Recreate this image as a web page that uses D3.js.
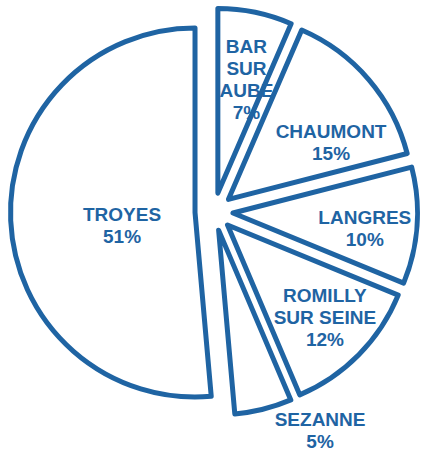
<!DOCTYPE html>
<html>
<head>
<meta charset="utf-8">
<script src="https://cdn.jsdelivr.net/npm/d3@7"></script>
<style>
  html, body { margin: 0; padding: 0; background: #fff; }
  svg { display: block; }
</style>
</head>
<body>
<svg id="chart" width="422" height="452"></svg>
<script>
// ---- data ----
const categories = ["BAR SUR AUBE", "CHAUMONT", "LANGRES", "ROMILLY SUR SEINE", "SEZANNE", "TROYES"];
const values = [6.5, 14.5, 10.2, 12.4, 5.0, 51.4];
const percentLabels = ["7%", "15%", "10%", "12%", "5%", "51%"];
const nameLines = [["BAR", "SUR", "AUBE"], ["CHAUMONT"], ["LANGRES"], ["ROMILLY", "SUR SEINE"], ["SEZANNE"], ["TROYES"]];

// ---- layout (label placement: radius from pie centre, angle nudge in degrees) ----
const labelRadius = [136, 136, 151.7, 153, 243.4, 93];
const labelNudge = [2.1, 9.9, 2.3, -1.1, -11.8, -6.1];

const cx = 214, cy = 211.7, R = 184.5, explode = 19;
const blue = "#1f64a3";

const svg = d3.select("#chart");
const g = svg.append("g").attr("transform", `translate(${cx},${cy})`);

const pie = d3.pie().sort(null).value(d => d)(values);
const arc = d3.arc().innerRadius(0).outerRadius(R);

pie.forEach((p, i) => {
  const mid = (p.startAngle + p.endAngle) / 2;
  const dx = explode * Math.sin(mid), dy = -explode * Math.cos(mid);
  g.append("path")
    .attr("d", arc(p))
    .attr("transform", `translate(${dx},${dy})`)
    .attr("fill", "#fff")
    .attr("stroke", blue)
    .attr("stroke-width", 5)
    .attr("stroke-linejoin", "round");
});

const lineH = 22;
pie.forEach((p, i) => {
  const mid = (p.startAngle + p.endAngle) / 2 + labelNudge[i] * Math.PI / 180;
  const lx = labelRadius[i] * Math.sin(mid), ly = -labelRadius[i] * Math.cos(mid);
  const lines = nameLines[i].concat([percentLabels[i]]);
  const t = g.append("text")
    .attr("text-anchor", "middle")
    .attr("font-family", "Liberation Sans, Arial, sans-serif")
    .attr("font-weight", "bold")
    .attr("font-size", 19)
    .attr("fill", blue);
  lines.forEach((s, j) => {
    t.append("tspan")
      .attr("x", lx)
      .attr("y", ly + (j - (lines.length - 1) / 2) * lineH)
      .attr("dy", "0.35em")
      .text(s);
  });
});
</script>
</body>
</html>
